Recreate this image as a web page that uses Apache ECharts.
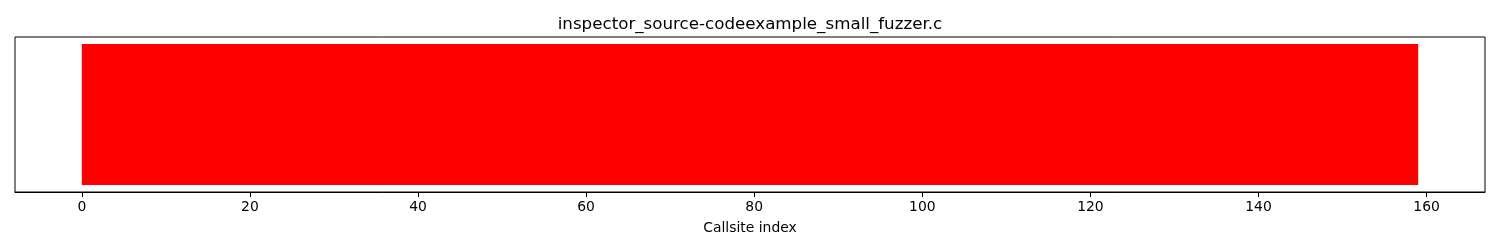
<!DOCTYPE html>
<html>
<head>
<meta charset="utf-8">
<script src="https://cdn.jsdelivr.net/npm/echarts@6/dist/echarts.min.js"></script>
<style>html,body{margin:0;padding:0;background:#fff}#c{width:1500px;height:250px}</style>
</head>
<body>
<div id="c"></div>
<script>
const chartTitle = 'inspector_source-codeexample_small_fuzzer.c';
const xLabel = 'Callsite index';
const xTicks = [0, 20, 40, 60, 80, 100, 120, 140, 160];
const callsiteIndex = [
  0,1,2,3,4,5,6,7,8,9,10,11,12,13,14,15,16,17,18,19,
  20,21,22,23,24,25,26,27,28,29,30,31,32,33,34,35,36,37,38,39,
  40,41,42,43,44,45,46,47,48,49,50,51,52,53,54,55,56,57,58,59,
  60,61,62,63,64,65,66,67,68,69,70,71,72,73,74,75,76,77,78,79,
  80,81,82,83,84,85,86,87,88,89,90,91,92,93,94,95,96,97,98,99,
  100,101,102,103,104,105,106,107,108,109,110,111,112,113,114,115,116,117,118,119,
  120,121,122,123,124,125,126,127,128,129,130,131,132,133,134,135,136,137,138,139,
  140,141,142,143,144,145,146,147,148,149,150,151,152,153,154,155,156,157,158
];
// 1 = reached (green), 0 = not reached (red)
const callsiteReached = [
  0,0,0,0,0,0,0,0,0,0,0,0,0,0,0,0,0,0,0,0,
  0,0,0,0,0,0,0,0,0,0,0,0,0,0,0,0,0,0,0,0,
  0,0,0,0,0,0,0,0,0,0,0,0,0,0,0,0,0,0,0,0,
  0,0,0,0,0,0,0,0,0,0,0,0,0,0,0,0,0,0,0,0,
  0,0,0,0,0,0,0,0,0,0,0,0,0,0,0,0,0,0,0,0,
  0,0,0,0,0,0,0,0,0,0,0,0,0,0,0,0,0,0,0,0,
  0,0,0,0,0,0,0,0,0,0,0,0,0,0,0,0,0,0,0,0,
  0,0,0,0,0,0,0,0,0,0,0,0,0,0,0,0,0,0,0
];
const barHeight = 1;

const n = callsiteIndex.length;
const span = n; // bars occupy [0, n]
const xMin = 0 - span * 0.05, xMax = span + span * 0.05;
const data = callsiteIndex.map((x, i) => [x, barHeight, callsiteReached[i]]);

const chart = echarts.init(document.getElementById('c'));
const font = 'DejaVu Sans';
chart.setOption({
  animation: false,
  title: {
    text: chartTitle, left: 'center', top: 11,
    textStyle: { fontFamily: font, fontSize: 16.7, fontWeight: 'normal', color: '#000' }
  },
  grid: { left: 15, right: 15, top: 37, bottom: 58, show: true, borderColor: '#000', borderWidth: 1, backgroundColor: 'transparent' },
  xAxis: {
    type: 'value', min: xMin, max: xMax,
    splitLine: { show: false },
    axisLine: { show: true, onZero: false, lineStyle: { color: '#000', width: 1 } },
    axisTick: { show: true, length: 5, lineStyle: { color: '#000' }, customValues: xTicks },
    axisLabel: { customValues: xTicks, fontFamily: font, fontSize: 13.9, color: '#000', margin: 8 },
    name: xLabel, nameLocation: 'middle', nameGap: 29,
    nameTextStyle: { fontFamily: font, fontSize: 13.9, color: '#000' }
  },
  yAxis: {
    type: 'value', min: -0.05 * barHeight, max: 1.05 * barHeight,
    axisLine: { show: false }, axisTick: { show: false }, axisLabel: { show: false }, splitLine: { show: false }
  },
  series: [{
    type: 'custom',
    data: data,
    renderItem: function (params, api) {
      const i = params.dataIndex;
      const x = api.value(0), h = api.value(1), r = api.value(2);
      const p0 = api.coord([x, h]);
      const p1 = api.coord([x + 1, 0]);
      const c = r ? '#008000' : '#ff0000';
      const extra = i < n - 1 ? 1 : 0; // overlap next bar to hide seams
      return {
        type: 'rect',
        shape: { x: p0[0], y: p0[1], width: p1[0] - p0[0] + extra, height: p1[1] - p0[1] },
        style: { fill: c }
      };
    }
  }]
});
</script>
</body>
</html>
